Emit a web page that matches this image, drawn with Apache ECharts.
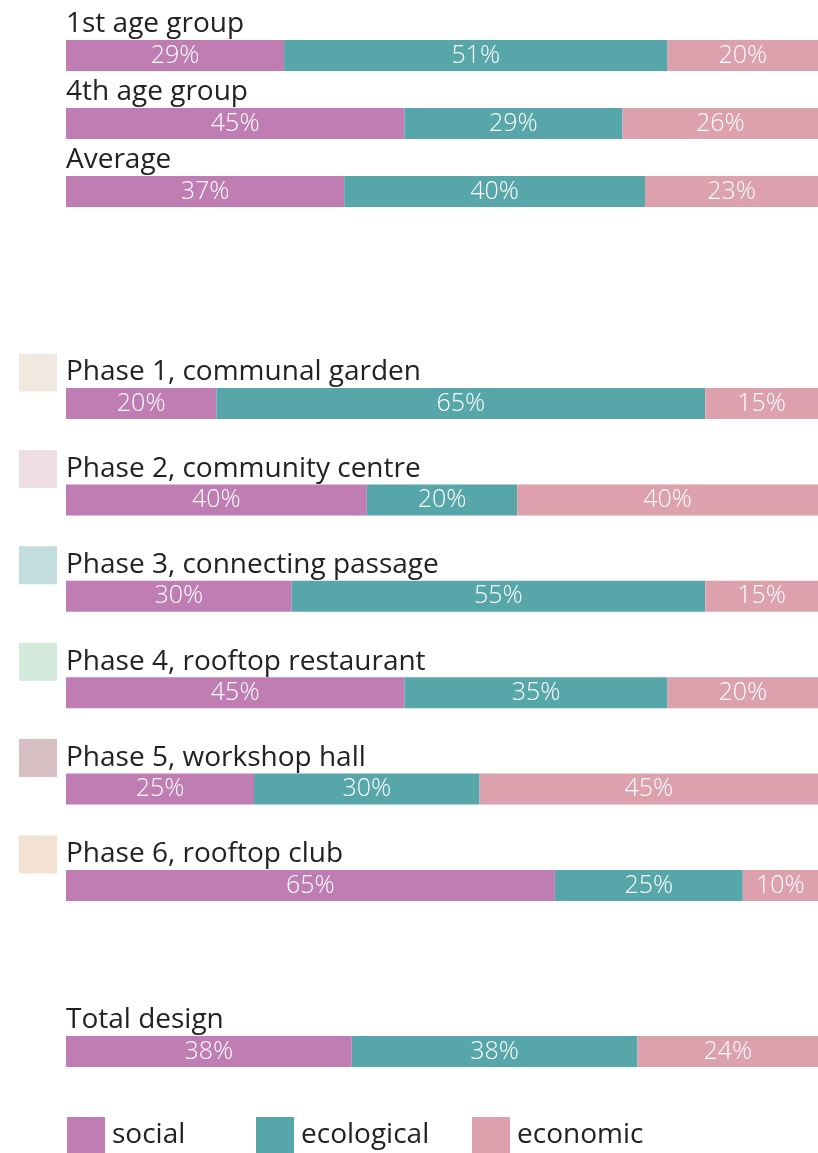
<!DOCTYPE html>
<html>
<head>
<meta charset="utf-8">
<script src="https://cdn.jsdelivr.net/npm/echarts@6/dist/echarts.min.js"></script>
<style>
html,body{margin:0;padding:0;background:#fff;}
#main{width:818px;height:1153px;}
</style>
</head>
<body>
<div id="main"></div>
<script>
var ageCats=['1st age group','4th age group','Average'];
var ageSocial=[29,45,37];
var ageEco=[51,29,40];
var ageEcon=[20,26,23];

var phaseCats=['Phase 1, communal garden','Phase 2, community centre','Phase 3, connecting passage','Phase 4, rooftop restaurant','Phase 5, workshop hall','Phase 6, rooftop club'];
var phaseSocial=[20,40,30,45,25,65];
var phaseEco=[65,20,55,35,30,25];
var phaseEcon=[15,40,15,20,45,10];
var phaseSwatch=['#f1e9df','#eedde3','#c1dddd','#d3eadd','#d7bec3','#f3e1d2'];

var totalCats=['Total design'];
var totalSocial=[38];
var totalEco=[38];
var totalEcon=[24];

var names=['social','ecological','economic'];
var colors=['#bf7db3','#57a6aa','#dda0ad'];
var fontFam='"Open Sans", sans-serif';
var fs=28;

var myChart=echarts.init(document.getElementById('main'));

// rich styles: sqN = coloured phase swatch, sp = empty spacer of same size
var rich={
    t:{fontSize:fs,color:'#222',fontFamily:fontFam,padding:[0,0,0,9],verticalAlign:'middle'},
    sp:{width:38,height:38,backgroundColor:'transparent'}
};
for(var i=0;i<phaseSwatch.length;i++){
    rich['sq'+i]={width:38,height:38,backgroundColor:phaseSwatch[i]};
}

function yAx(idx,cats,isPhase){
    return {
        type:'category',gridIndex:idx,data:cats,inverse:true,
        axisLine:{show:false},axisTick:{show:false},
        axisLabel:{
            interval:0,hideOverlap:false,
            align:'left',margin:47,fontSize:fs,color:'#222',fontFamily:fontFam,
            verticalAlign:'middle',padding:[0,0,62,0],
            formatter:function(v,i){return (isPhase?'{sq'+i+'|}':'{sp|}')+'{t|'+v+'}';},
            rich:rich
        }
    };
}
function xAx(idx){
    return {type:'value',gridIndex:idx,min:0,max:100,show:false};
}
function mk(name,color,idx,data){
    return {
        name:name,type:'bar',xAxisIndex:idx,yAxisIndex:idx,stack:'s'+idx,
        data:data,barWidth:31,itemStyle:{color:color},
        label:{show:true,position:'inside',formatter:'{c}%',color:'#fff',fontSize:25,fontWeight:300,fontFamily:fontFam},
        emphasis:{disabled:true}
    };
}

var groups=[[ageSocial,ageEco,ageEcon],[phaseSocial,phaseEco,phaseEcon],[totalSocial,totalEco,totalEcon]];
var series=[];
for(var g=0;g<groups.length;g++){
    for(var k=0;k<3;k++){
        series.push(mk(names[k],colors[k],g,groups[g][k]));
    }
}

var legendLeft=[67,256,472];
var legends=[];
for(var k=0;k<3;k++){
    legends.push({
        data:[names[k]],left:legendLeft[k],top:1117,padding:0,itemWidth:38,itemHeight:36,itemGap:0,
        icon:'rect',selectedMode:false,
        textStyle:{fontSize:fs,color:'#222',fontFamily:fontFam,padding:[5,0,0,2]}
    });
}

option={
    animation:false,
    color:colors,
    grid:[
        {left:66,right:0,top:21.5,height:204},
        {left:66,right:0,top:355.3,height:578.4},
        {left:66,right:0,top:1020,height:63}
    ],
    xAxis:[xAx(0),xAx(1),xAx(2)],
    yAxis:[yAx(0,ageCats,false),yAx(1,phaseCats,true),yAx(2,totalCats,false)],
    legend:legends,
    series:series
};
myChart.setOption(option);
</script>
</body>
</html>
